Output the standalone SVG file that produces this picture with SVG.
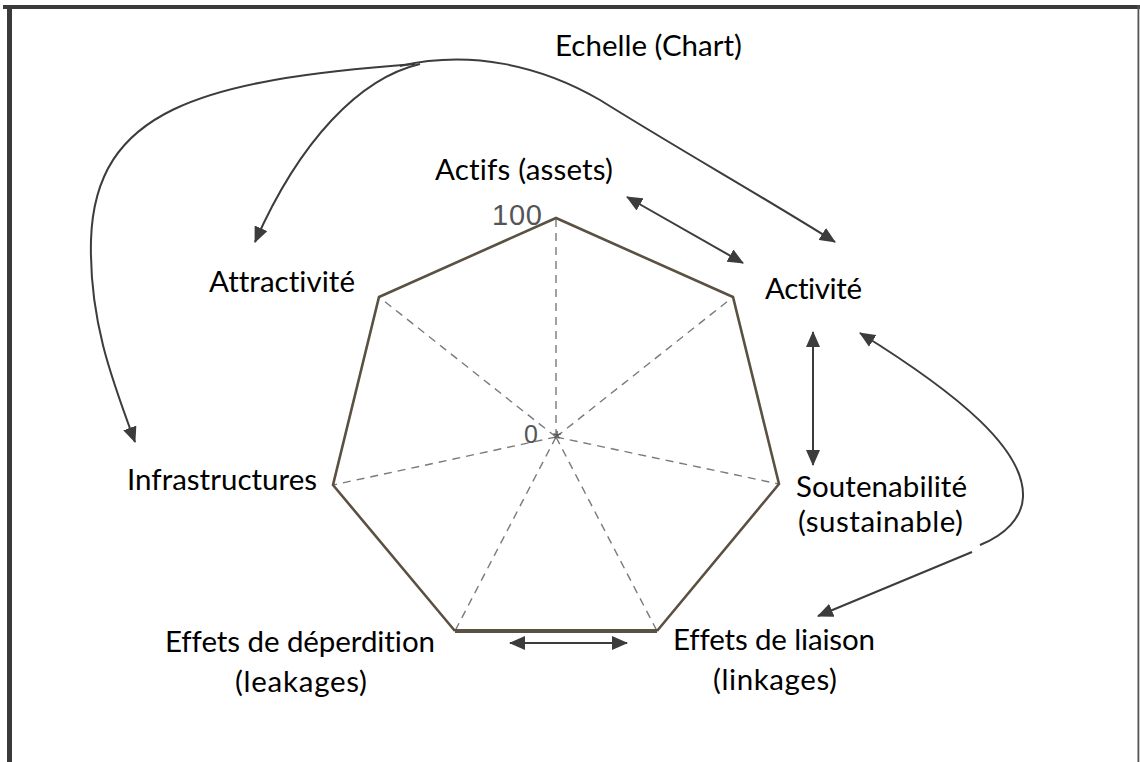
<svg xmlns="http://www.w3.org/2000/svg" width="1140" height="762" viewBox="0 0 1140 762">
<defs>
<style>
.lbl{font-family:Lato,"Open Sans","Liberation Sans",sans-serif;font-size:29.5px;fill:#000;font-variant-ligatures:none;font-feature-settings:"liga" 0}
.num{font-family:"Liberation Sans",Arial,sans-serif;fill:#555}
.edge{fill:none;stroke:#5b5142;stroke-width:2.6;stroke-linejoin:miter}
.spoke{stroke:#7a7a7a;stroke-width:1.4;stroke-dasharray:8 6}
.conn{fill:none;stroke:#3c3c3c;stroke-width:2}
</style>
<marker id="ah" viewBox="0 0 16 14" refX="15" refY="7" markerWidth="16" markerHeight="14" markerUnits="userSpaceOnUse" orient="auto-start-reverse">
<path d="M0 0 L16 7 L0 14 Z" fill="#3c3c3c"/>
</marker>
</defs>
<rect x="0" y="0" width="1140" height="762" fill="#fff"/>
<g id="frame">
<rect x="3" y="5" width="1137" height="4" fill="#3a3a3a"/>
<rect x="7" y="5" width="5" height="757" fill="#3a3a3a"/>
<rect x="1137.5" y="5" width="1.8" height="757" fill="#555"/>
</g>
<g id="radar">
<g id="spokes">
<line class="spoke" x1="556" y1="437" x2="556" y2="218"/>
<line class="spoke" x1="556" y1="437" x2="733" y2="297"/>
<line class="spoke" x1="556" y1="437" x2="779" y2="484"/>
<line class="spoke" x1="556" y1="437" x2="657" y2="631"/>
<line class="spoke" x1="556" y1="437" x2="455" y2="631"/>
<line class="spoke" x1="556" y1="437" x2="333" y2="485"/>
<line class="spoke" x1="556" y1="437" x2="379" y2="297"/>
</g>
<polyline class="edge" points="455,631 333,485 379,297 556,218 733,297 779,484 657,631"/>
<line x1="455" y1="631" x2="657" y2="631" stroke="#5b5142" stroke-width="4"/>
<text class="num" x="557" y="446" font-size="22" text-anchor="middle">*</text>
<text class="num" x="524" y="443" font-size="25">0</text>
<text class="num" x="492" y="225" font-size="29" textLength="50">100</text>
</g>
<g id="n-echelle"><text class="lbl" x="555" y="56" textLength="187">Echelle (Chart)</text></g>
<g id="n-actifs"><text class="lbl" x="435" y="180" textLength="178">Actifs (assets)</text></g>
<g id="n-attractivite"><text class="lbl" x="209" y="292" textLength="146">Attractivité</text></g>
<g id="n-activite"><text class="lbl" x="765" y="299" textLength="97">Activité</text></g>
<g id="n-infra"><text class="lbl" x="127" y="490" textLength="190">Infrastructures</text></g>
<g id="n-soutenabilite"><text class="lbl" x="796" y="497" textLength="171">Soutenabilité</text><text class="lbl" x="798" y="532" textLength="165">(sustainable)</text></g>
<g id="n-deperdition"><text class="lbl" x="165" y="652" textLength="270">Effets de déperdition</text><text class="lbl" x="235" y="692" textLength="132">(leakages)</text></g>
<g id="n-liaison"><text class="lbl" x="673" y="650" textLength="202">Effets de liaison</text><text class="lbl" x="713" y="690" textLength="124">(linkages)</text></g>
<g id="connectors">
<path class="conn" d="M415 64 C200 80, 95 110, 91 240 C89 320, 112 380, 135 442" marker-end="url(#ah)"/>
<path class="conn" d="M420 64 C360 78, 300 140, 255 242" marker-end="url(#ah)"/>
<path class="conn" d="M400 66 C470 50, 540 65, 600 100 C680 150, 760 195, 835 242" marker-end="url(#ah)"/>
<line class="conn" x1="627" y1="197" x2="743" y2="263" marker-start="url(#ah)" marker-end="url(#ah)"/>
<line class="conn" x1="813" y1="332" x2="813" y2="465" marker-start="url(#ah)" marker-end="url(#ah)"/>
<path class="conn" d="M860 333 C960 395, 1025 450, 1023 497 C1022 518, 1005 535, 980 545" marker-start="url(#ah)"/>
<path class="conn" d="M972 552 L818 616" marker-end="url(#ah)"/>
<line class="conn" x1="510" y1="643" x2="627" y2="643" marker-start="url(#ah)" marker-end="url(#ah)"/>
</g>
</svg>
